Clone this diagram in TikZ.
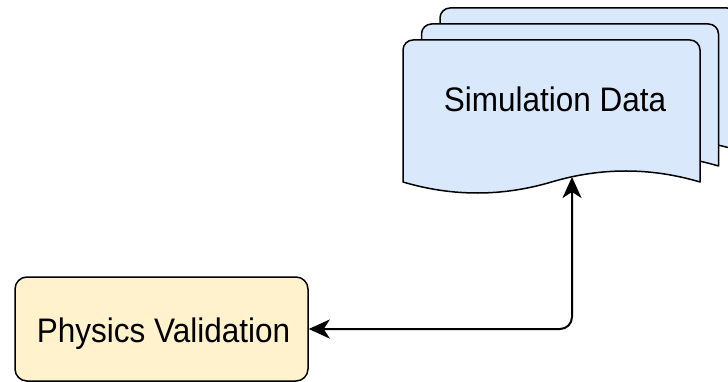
\documentclass[tikz,border=0pt]{standalone}
\usepackage{fontspec}
\setmainfont{Liberation Sans}
\usetikzlibrary{arrows.meta}
\definecolor{docblue}{HTML}{DAE8FC}
\definecolor{notefill}{HTML}{FFF2CC}

\tikzset{
  docsheet/.style={draw=black, fill=docblue, line width=1.5pt, line join=round},
  physbox/.style={draw=black, fill=notefill, line width=1.5pt, rounded corners=12pt,
    minimum width=293pt, minimum height=104pt, inner sep=0pt},
  label/.style={font=\fontsize{31.5}{38}\selectfont, inner sep=0pt, anchor=base, yscale=1.08, transform shape},
  linktip/.style={Stealth[length=21pt, width=19pt, inset=6pt, sharp]},
  link/.style={draw=black, line width=2pt, {Stealth[length=21pt, width=19pt, inset=6pt]}-{Stealth[length=21pt, width=19pt, inset=6pt]}}
}

% one sheet of the document stack: #1 = left edge, #2 = top edge
\newcommand\drawsheet[2]{%
  \draw[docsheet]
    [rounded corners=10pt] (#1,{#2+142}) -- (#1,#2) -- ({#1+297},#2)
    [sharp corners] -- ({#1+297},{#2+142})
    .. controls ({#1+247.5},{#2+127.33}) and ({#1+198},{#2+127.33}) .. ({#1+148.5},{#2+142})
    .. controls ({#1+99},{#2+156.67}) and ({#1+49.5},{#2+156.67}) .. (#1,{#2+142})
    -- cycle;
}

\begin{document}
\begin{tikzpicture}[x=1pt, y=-1pt]
  \useasboundingbox (0,0) rectangle (728,382);
  \begin{scope}
    \clip (0,0) rectangle (728,382);
    % stacked documents, back to front
    \drawsheet{440}{8}
    \drawsheet{421.5}{24}
    \drawsheet{403}{40}
  \end{scope}
  \node[label] (simlabel) at (555,112) {Simulation Data};
  \coordinate (datafoot) at (572,177);

  \node[physbox] (phys) at (161.5,329) {};
  \node[label] (physlabel) at (163.5,342) {Physics Validation};

  \draw[link] (phys.east) [rounded corners=12pt] -| (datafoot);
\end{tikzpicture}
\end{document}
